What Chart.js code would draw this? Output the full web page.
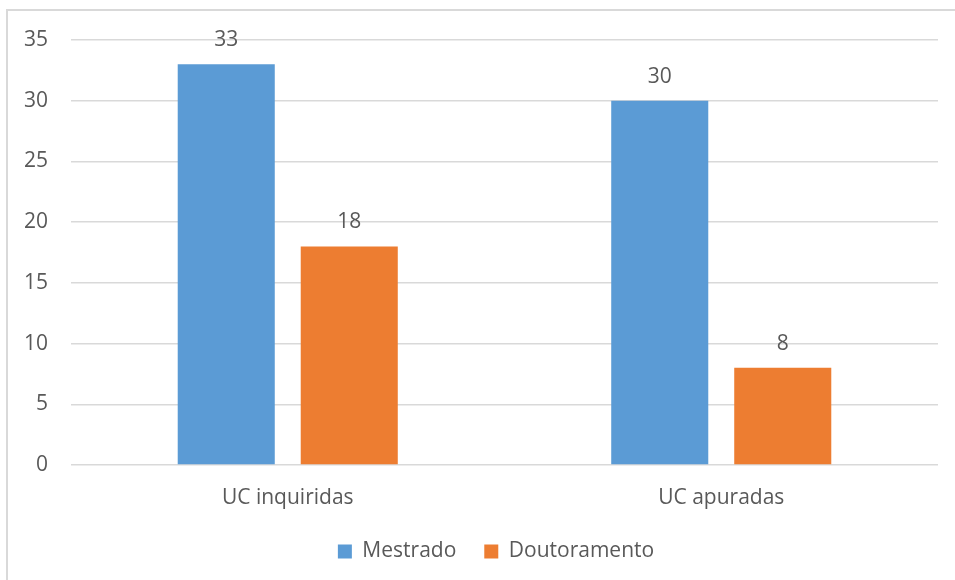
<!DOCTYPE html>
<html>
<head>
<meta charset="utf-8">
<script src="https://cdn.jsdelivr.net/npm/chart.js@4"></script>
<style>
  html, body { margin: 0; padding: 0; background: #fff; overflow: hidden; }
  #frame { position: absolute; left: 6px; top: 9px; width: 1200px; height: 1000px;
           border-left: 2px solid #d9d9d9; border-top: 2px solid #d9d9d9; }
  #wrap { position: absolute; left: 0; top: 0; width: 955px; height: 580px; }
</style>
</head>
<body>
<div id="frame"></div>
<div id="wrap"><canvas id="c" width="955" height="580"></canvas></div>
<script>
const categories = ["UC inquiridas", "UC apuradas"];
const mestrado = [33, 30];
const doutoramento = [18, 8];
const yMin = 0, yMax = 35, yStep = 5;

const TEXT = "#595959";
const FONT = "'Open Sans', 'Liberation Sans', sans-serif";
const FS = 21;

const dataLabels = {
  id: "dataLabels",
  afterDatasetsDraw(chart) {
    const ctx = chart.ctx;
    ctx.save();
    ctx.font = FS + "px " + FONT;
    ctx.fillStyle = TEXT;
    ctx.textAlign = "center";
    ctx.textBaseline = "middle";
    chart.data.datasets.forEach((ds, i) => {
      const meta = chart.getDatasetMeta(i);
      meta.data.forEach((el, j) => {
        ctx.fillText(String(ds.data[j]), el.x, el.y - 24);
      });
    });
    ctx.restore();
  }
};

const legendShift = {
  id: "legendShift",
  afterLayout(chart) {
    const lg = chart.legend;
    if (lg) { lg.left += 27; lg.right += 27; }
  }
};

new Chart(document.getElementById("c"), {
  type: "bar",
  data: {
    labels: categories,
    datasets: [
      { label: "Mestrado", data: mestrado, backgroundColor: "#5B9BD5",
        categoryPercentage: 0.5675, barPercentage: 0.789 },
      { label: "Doutoramento", data: doutoramento, backgroundColor: "#ED7D31",
        categoryPercentage: 0.5675, barPercentage: 0.789 }
    ]
  },
  options: {
    responsive: false,
    animation: false,
    devicePixelRatio: 1,
    layout: { padding: { top: 40, right: 17, bottom: 8, left: 0 } },
    plugins: {
      legend: {
        position: "bottom",
        labels: {
          boxWidth: 14, boxHeight: 14, padding: 28,
          color: TEXT, font: { family: FONT, size: FS }
        }
      },
      tooltip: { enabled: false },
      title: { display: false }
    },
    scales: {
      x: {
        grid: { display: false, drawTicks: false },
        border: { display: false },
        ticks: { color: TEXT, font: { family: FONT, size: FS }, padding: 20 },
        afterFit(scale) { scale.height = 48; }
      },
      y: {
        min: yMin, max: yMax,
        grid: { color: "#d9d9d9", lineWidth: 1.5, drawTicks: false },
        border: { display: false },
        ticks: { stepSize: yStep, color: TEXT, font: { family: FONT, size: FS }, padding: 23 },
        afterFit(scale) { scale.width = 71; }
      }
    }
  },
  plugins: [dataLabels, legendShift]
});
</script>
</body>
</html>
